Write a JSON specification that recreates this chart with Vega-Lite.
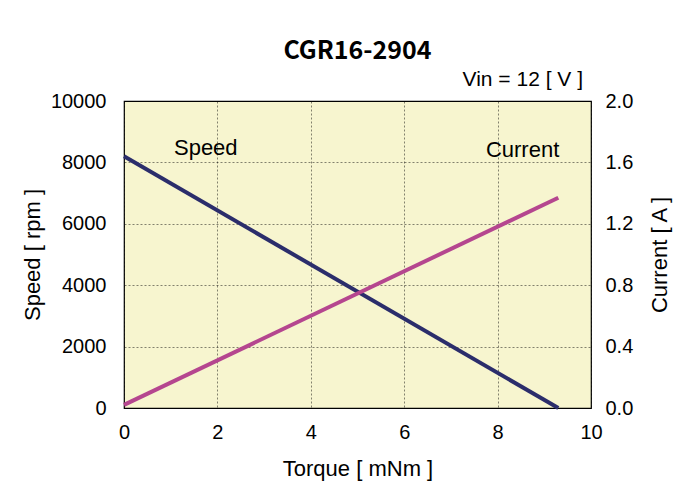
{
  "$schema": "https://vega.github.io/schema/vega-lite/v6.json",
  "width": 467,
  "height": 307,
  "padding": {"left": 21, "top": 39, "right": 10, "bottom": 10},
  "background": "white",
  "title": {
    "text": "CGR16-2904",
    "font": "Noto Sans CJK JP",
    "fontSize": 25,
    "fontWeight": "bold",
    "color": "#000000",
    "anchor": "middle",
    "offset": 5
  },
  "config": {
    "view": {"fill": "#f7f5cf", "stroke": "#000000", "strokeWidth": 1.2},
    "axis": {
      "labelFont": "Liberation Sans",
      "titleFont": "Liberation Sans",
      "labelFontSize": 20,
      "titleFontSize": 22,
      "titleFontWeight": "normal",
      "labelColor": "#000000",
      "titleColor": "#000000",
      "labelFlush": false,
      "ticks": false,
      "domain": false,
      "gridColor": "#000000",
      "gridDash": [2, 2],
      "gridWidth": 0.6,
      "gridOpacity": 0.8
    }
  },
  "datasets": {
    "speed": [
      {"torque": 0, "speed": 8200},
      {"torque": 9.3, "speed": 0}
    ],
    "current": [
      {"torque": 0, "current": 0.02},
      {"torque": 9.3, "current": 1.37}
    ],
    "speedLabel": [
      {"torque": 1.07, "speed": 8470, "label": "Speed"}
    ],
    "currentLabel": [
      {"torque": 7.75, "current": 1.68, "label": "Current"}
    ]
  },
  "layer": [
    {
      "layer": [
        {
          "data": {"name": "speed"},
          "mark": {"type": "line", "color": "#2b2d6b", "strokeWidth": 4},
          "encoding": {
            "x": {
              "field": "torque",
              "type": "quantitative",
              "scale": {"domain": [0, 10], "nice": false},
              "axis": {"values": [0, 2, 4, 6, 8, 10], "labelPadding": 14, "title": "Torque [ mNm ]", "titlePadding": 16, "grid": true}
            },
            "y": {
              "field": "speed",
              "type": "quantitative",
              "scale": {"domain": [0, 10000], "nice": false},
              "axis": {"values": [0, 2000, 4000, 6000, 8000, 10000], "format": "d", "labelPadding": 18, "title": "Speed [ rpm ]", "titlePadding": 6, "grid": true, "orient": "left"}
            }
          }
        },
        {
          "data": {"name": "speedLabel"},
          "mark": {"type": "text", "align": "left", "baseline": "middle", "font": "Liberation Sans", "fontSize": 22, "color": "#000000"},
          "encoding": {
            "x": {"field": "torque", "type": "quantitative"},
            "y": {"field": "speed", "type": "quantitative"},
            "text": {"field": "label"}
          }
        },
        {
          "data": {"values": [{"label": "Vin = 12 [ V ]"}]},
          "mark": {"type": "text", "align": "right", "baseline": "bottom", "font": "Liberation Sans", "fontSize": 21, "color": "#000000", "dx": -8, "dy": -11},
          "encoding": {
            "x": {"datum": 10, "type": "quantitative"},
            "y": {"datum": 10000, "type": "quantitative"},
            "text": {"field": "label"}
          }
        }
      ]
    },
    {
      "layer": [
        {
          "data": {"name": "current"},
          "mark": {"type": "line", "color": "#b5468f", "strokeWidth": 4},
          "encoding": {
            "x": {"field": "torque", "type": "quantitative"},
            "y": {
              "field": "current",
              "type": "quantitative",
              "scale": {"domain": [0, 2], "nice": false},
              "axis": {"values": [0, 0.4, 0.8, 1.2, 1.6, 2.0], "format": ".1f", "labelPadding": 14, "title": "Current [ A ]", "titleAngle": 270, "titleBaseline": "top", "titlePadding": 17, "grid": false, "orient": "right"}
            }
          }
        },
        {
          "data": {"name": "currentLabel"},
          "mark": {"type": "text", "align": "left", "baseline": "middle", "font": "Liberation Sans", "fontSize": 22, "color": "#000000"},
          "encoding": {
            "x": {"field": "torque", "type": "quantitative"},
            "y": {"field": "current", "type": "quantitative"},
            "text": {"field": "label"}
          }
        }
      ]
    }
  ],
  "resolve": {"scale": {"y": "independent"}}
}
